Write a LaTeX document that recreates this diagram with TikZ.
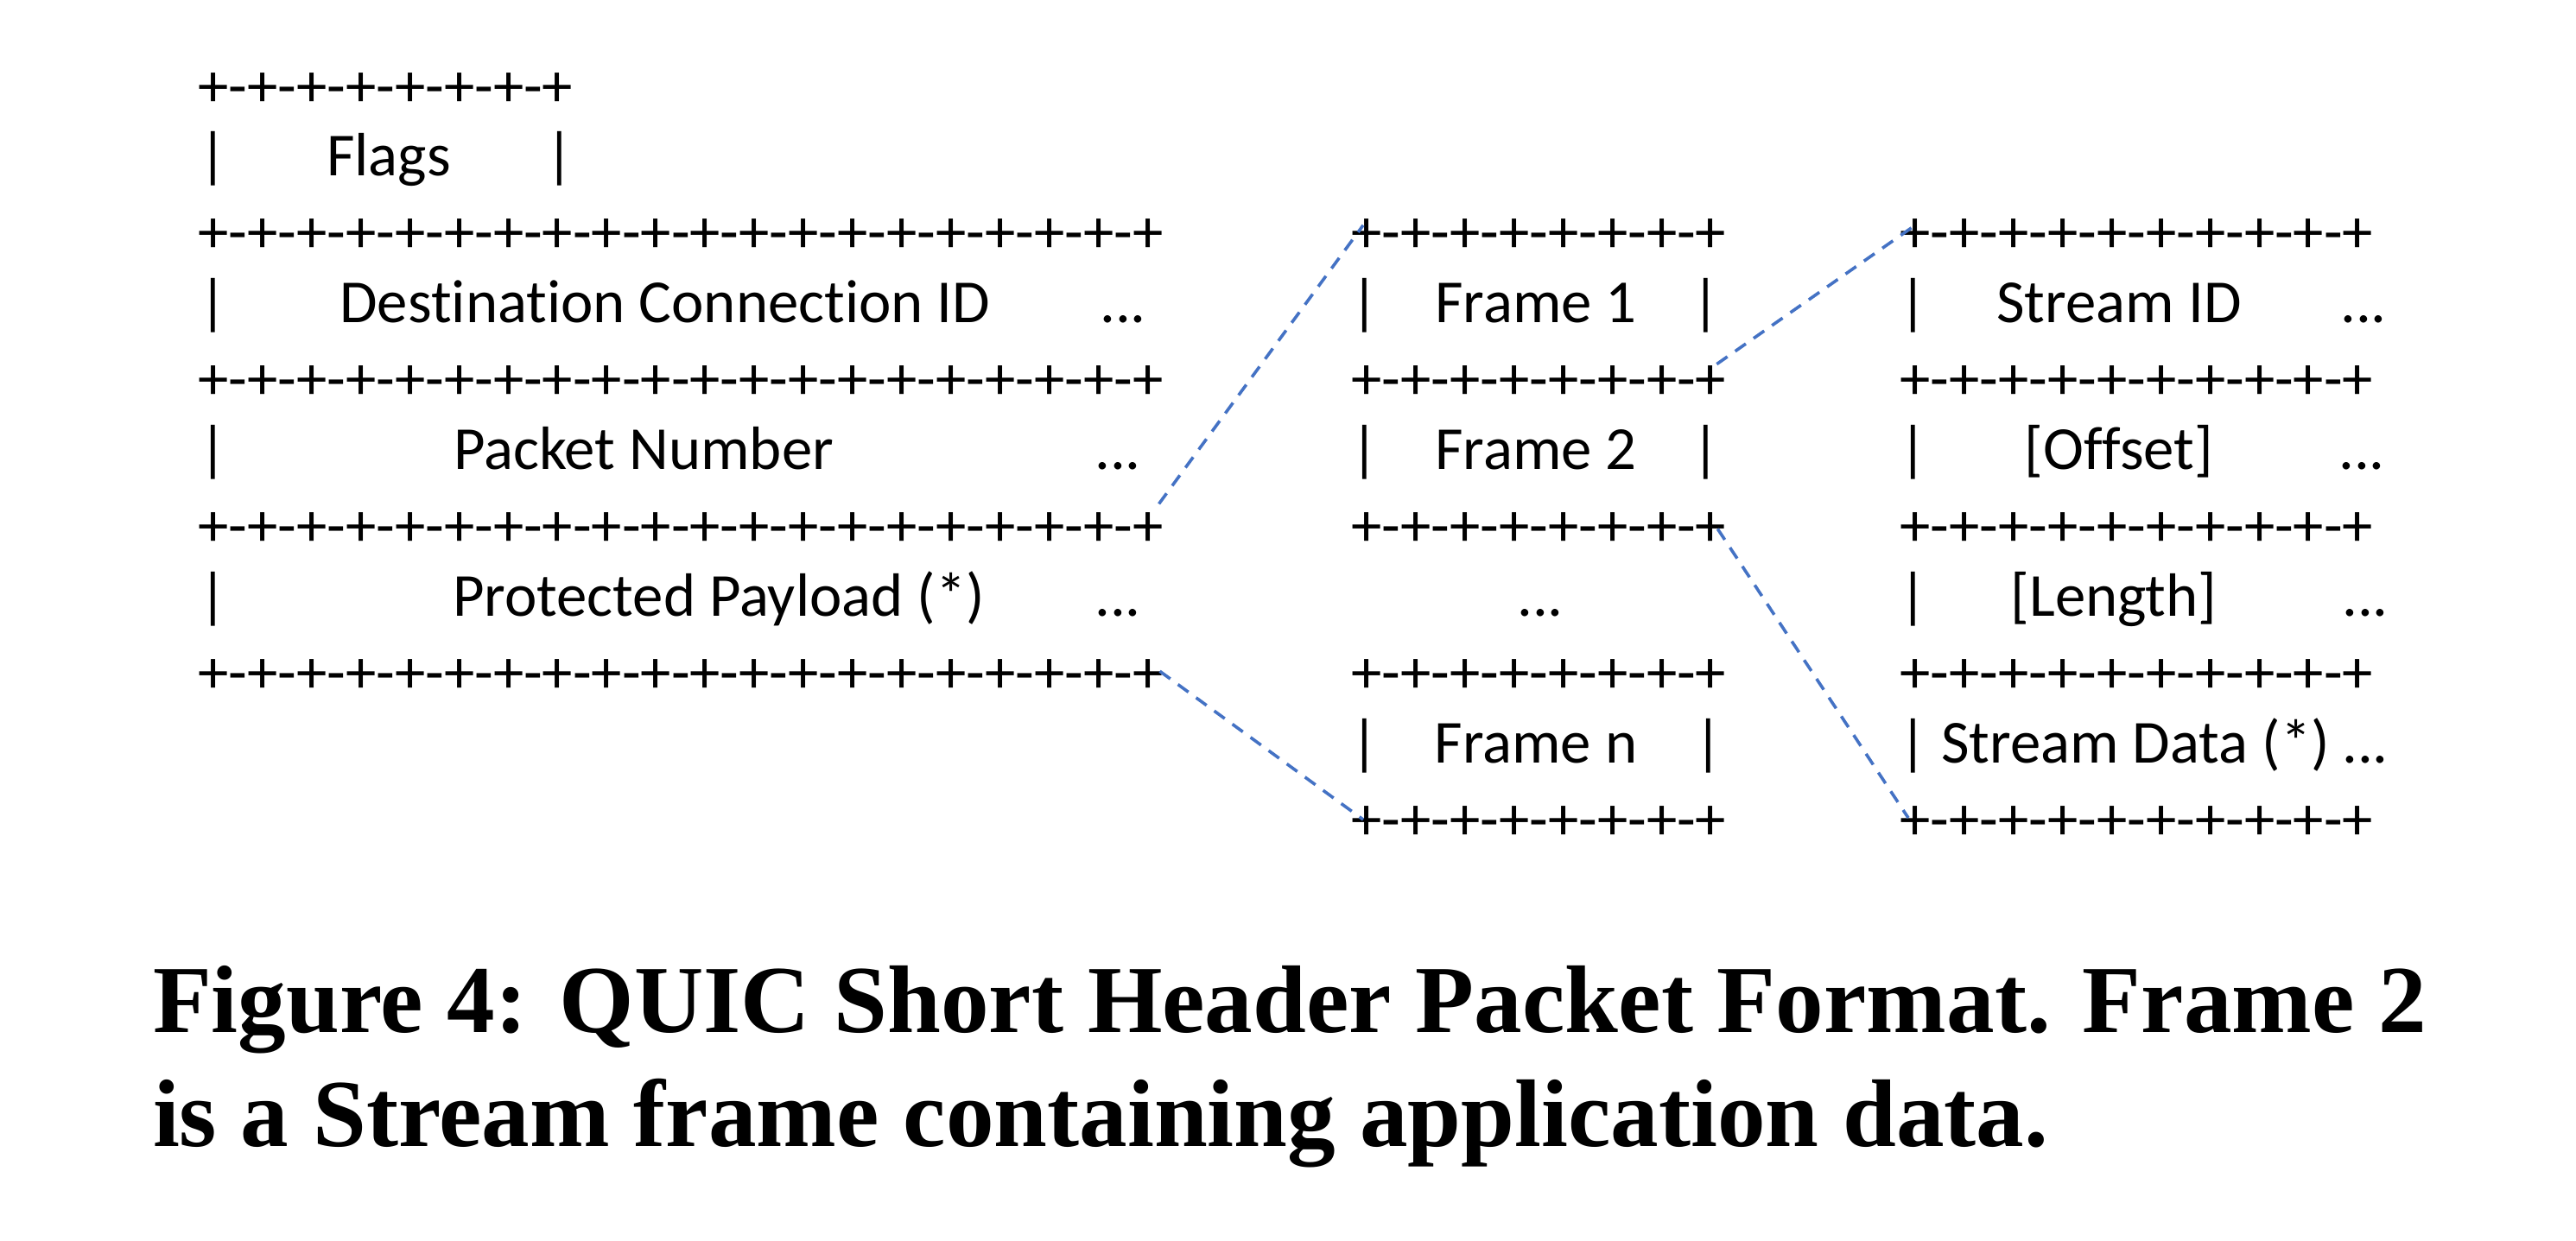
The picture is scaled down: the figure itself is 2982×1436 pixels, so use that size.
\documentclass[tikz,border=0pt]{standalone}
\usepackage{fontspec}
\setmainfont{Carlito}[Ligatures={NoCommon}]
\newfontfamily\capfont{Liberation Serif}
\definecolor{linkblue}{HTML}{4472C4}
\begin{document}
\begin{tikzpicture}[x=0.25pt,y=-0.25pt,
  ascii/.style={inner sep=0pt,outer sep=0pt,font=\fontsize{17.7}{20}\selectfont,anchor=base west},
  lbl/.style={inner sep=0pt,outer sep=0pt,font=\fontsize{17.7}{20}\selectfont,anchor=base},
  link/.style={draw=linkblue,line width=0.9pt,dash pattern=on 3.75pt off 2.75pt},
  captext/.style={inner sep=0pt,outer sep=0pt,anchor=base west,font=\capfont\bfseries\fontsize{27.8}{30}\selectfont}]
\useasboundingbox (0,0) rectangle (2982,1436);
% ---------- left block ----------
\node[ascii] (bL0) at (229.5,123) {+-+-+-+-+-+-+-+};
\node[lbl] (l1a) at (247,203) {|};
\node[lbl] (l1t) at (450,203) {Flags};
\node[lbl] (l1b) at (648,203) {|};
\node[ascii] (bL2) at (229.5,292.8) {+-+-+-+-+-+-+-+-+-+-+-+-+-+-+-+-+-+-+-+};
\node[lbl] (l3a) at (247,373) {|};
\node[lbl] (l3t) at (770,373) {Destination Connection ID};
\node[lbl] (l3d) at (1300,373) {...};
\node[ascii] (bL4) at (229.5,462.6) {+-+-+-+-+-+-+-+-+-+-+-+-+-+-+-+-+-+-+-+};
\node[lbl] (l5a) at (247,543) {|};
\node[lbl] (l5t) at (745,543) {Packet Number};
\node[lbl] (l5d) at (1294,543) {...};
\node[ascii] (bL6) at (229.5,632.4) {+-+-+-+-+-+-+-+-+-+-+-+-+-+-+-+-+-+-+-+};
\node[lbl] (l7a) at (247,713) {|};
\node[lbl] (l7t) at (832,713) {Protected Payload (*)};
\node[lbl] (l7d) at (1294,713) {...};
\node[ascii] (bL8) at (229.5,802.2) {+-+-+-+-+-+-+-+-+-+-+-+-+-+-+-+-+-+-+-+};
% ---------- middle block ----------
\node[ascii] (bM2) at (1564.5,292.8) {+-+-+-+-+-+-+-+};
\node[lbl] (m3a) at (1580,373) {|};
\node[lbl] (m3t) at (1778,373) {Frame 1};
\node[lbl] (m3b) at (1975,373) {|};
\node[ascii] (bM4) at (1564.5,462.6) {+-+-+-+-+-+-+-+};
\node[lbl] (m5a) at (1580,543) {|};
\node[lbl] (m5t) at (1778,543) {Frame 2};
\node[lbl] (m5b) at (1975,543) {|};
\node[ascii] (bM6) at (1564.5,632.4) {+-+-+-+-+-+-+-+};
\node[lbl] (m7d) at (1783,713) {...};
\node[ascii] (bM8) at (1564.5,802.2) {+-+-+-+-+-+-+-+};
\node[lbl] (m9a) at (1580,883) {|};
\node[lbl] (m9t) at (1778,883) {Frame n};
\node[lbl] (m9b) at (1978,883) {|};
\node[ascii] (bM10) at (1564.5,972) {+-+-+-+-+-+-+-+};
% ---------- right block ----------
\node[ascii] (bR2) at (2199.5,292.8) {+-+-+-+-+-+-+-+-+-+};
\node[lbl] (r3a) at (2215,373) {|};
\node[lbl] (r3t) at (2453,373) {Stream ID};
\node[lbl] (r3d) at (2736,373) {...};
\node[ascii] (bR4) at (2199.5,462.6) {+-+-+-+-+-+-+-+-+-+};
\node[lbl] (r5a) at (2215,543) {|};
\node[lbl] (r5t) at (2453,543) {[Offset]};
\node[lbl] (r5d) at (2734,543) {...};
\node[ascii] (bR6) at (2199.5,632.4) {+-+-+-+-+-+-+-+-+-+};
\node[lbl] (r7a) at (2215,713) {|};
\node[lbl] (r7t) at (2447,713) {[Length]};
\node[lbl] (r7d) at (2738,713) {...};
\node[ascii] (bR8) at (2199.5,802.2) {+-+-+-+-+-+-+-+-+-+};
\node[lbl] (r9a) at (2215,883) {|};
\node[lbl] (r9t) at (2472,883) {Stream Data (*)};
\node[lbl] (r9d) at (2738,883) {...};
\node[ascii] (bR10) at (2199.5,972) {+-+-+-+-+-+-+-+-+-+};
% ---------- dashed connectors ----------
\draw[link] ([shift={(-5,-49)}]bL6.base east) -- ([shift={(13.5,-32)}]bM2.base west);
\draw[link] ([shift={(-4,-25)}]bL8.base east) -- ([shift={(13.5,-23)}]bM10.base west);
\draw[link] ([shift={(-11,-41)}]bM4.base east) -- ([shift={(17.5,-32)}]bR2.base west);
\draw[link] ([shift={(-10,-20)}]bM6.base east) -- ([shift={(9.5,-25)}]bR10.base west);
% ---------- caption ----------
\node[captext] (cap1) at (177,1195) {Figure 4: QUIC Short Header Packet Format. Frame 2};
\node[captext] (cap2) at (177,1327) {is a Stream frame containing application data.};
\end{tikzpicture}
\end{document}
